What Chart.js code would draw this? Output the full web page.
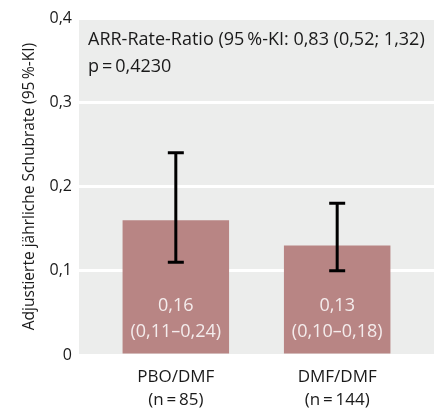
<!DOCTYPE html>
<html>
<head>
<meta charset="utf-8">
<script src="https://cdn.jsdelivr.net/npm/chart.js@4/dist/chart.umd.min.js"></script>
<style>
  html, body { margin: 0; padding: 0; background: #fff; }
  #wrap { width: 438px; height: 409px; }
</style>
</head>
<body>
<div id="wrap"><canvas id="myChart" width="438" height="409"></canvas></div>
<script>
const groups = ["PBO/DMF", "DMF/DMF"];
const groupN = ["(n\u2009=\u200985)", "(n\u2009=\u2009144)"];
const rates = [0.16, 0.13];
const lower = [0.11, 0.10];
const upper = [0.24, 0.18];
const yTicks = [0, 0.1, 0.2, 0.3, 0.4];
const noteLines = ["ARR-Rate-Ratio (95\u2009%-KI: 0,83 (0,52; 1,32)", "p\u2009=\u20090,4230"];

const fontName = "'Open Sans', sans-serif";
const canvas = document.getElementById("myChart");

function komma(v, d) {
  return v === 0 ? "0" : v.toFixed(d).replace(".", ",");
}

const bgPlugin = {
  id: "bg",
  beforeDraw(chart) {
    const { ctx, chartArea: a } = chart;
    ctx.save();
    ctx.fillStyle = "#ecedec";
    ctx.fillRect(a.left, a.top, a.right - a.left, a.bottom - a.top);
    ctx.restore();
  }
};

const extrasPlugin = {
  id: "extras",
  afterDatasetsDraw(chart) {
    const { ctx, scales } = chart;
    const x = scales.x, y = scales.y;
    ctx.save();
    // error bars
    ctx.strokeStyle = "#000";
    ctx.lineWidth = 3;
    rates.forEach((r, i) => {
      const px = x.getPixelForValue(i + 1);
      const top = y.getPixelForValue(upper[i]);
      const bot = y.getPixelForValue(lower[i]);
      ctx.beginPath();
      ctx.moveTo(px, top); ctx.lineTo(px, bot);
      ctx.moveTo(px - 8, top); ctx.lineTo(px + 8, top);
      ctx.moveTo(px - 8, bot); ctx.lineTo(px + 8, bot);
      ctx.stroke();
    });
    // labels in bars
    ctx.fillStyle = "#f4ecec";
    ctx.textAlign = "center";
    ctx.textBaseline = "middle";
    ctx.font = "18px " + fontName;
    rates.forEach((r, i) => {
      const px = x.getPixelForValue(i + 1);
      ctx.fillText(komma(r, 2), px, 306);
      ctx.fillText("(" + komma(lower[i], 2) + "\u2013" + komma(upper[i], 2) + ")", px, 332);
    });
    // note
    ctx.fillStyle = "#1a1a1a";
    ctx.textAlign = "left";
    ctx.font = "18px " + fontName;
    noteLines.forEach((t, i) => ctx.fillText(t, 88, 40 + i * 27));
    ctx.restore();
  }
};

new Chart(canvas, {
  type: "bar",
  data: {
    datasets: [{
      data: rates.map((r, i) => ({ x: i + 1, y: r })),
      backgroundColor: "#b88584",
      borderWidth: 0,
      barPercentage: 0.66,
      categoryPercentage: 1
    }]
  },
  options: {
    responsive: false,
    animation: false,
    layout: { padding: { top: 18, right: 4, left: 20, bottom: 0 } },
    plugins: { legend: { display: false }, tooltip: { enabled: false } },
    scales: {
      x: {
        type: "linear",
        offset: false,
        min: 0.4,
        max: 2.6,
        afterBuildTicks: s => { s.ticks = groups.map((g, i) => ({ value: i + 1 })); },
        afterFit: s => { s.height = 54; },
        grid: { display: false, offset: false },
        border: { display: false },
        ticks: {
          callback: (v) => [groups[v - 1], groupN[v - 1]],
          color: "#1a1a1a",
          font: { family: fontName, size: 17, lineHeight: 1.35 },
          padding: 3,
          maxRotation: 0
        }
      },
      y: {
        min: 0,
        max: 0.4,
        afterBuildTicks: s => { s.ticks = yTicks.map(v => ({ value: v })); },
        afterFit: s => { s.width = 59; },
        grid: { color: "#fff", lineWidth: 3, drawTicks: false },
        border: { display: false },
        ticks: {
          callback: v => komma(v, 1),
          color: "#1a1a1a",
          font: { family: fontName, size: 16 },
          padding: 7
        },
        title: {
          display: true,
          text: "Adjustierte jährliche Schubrate (95\u2009%-KI)",
          color: "#1a1a1a",
          font: { family: fontName, size: 15.5 },
          padding: { top: 0, bottom: 0 }
        }
      }
    }
  },
  plugins: [bgPlugin, extrasPlugin]
});
</script>
</body>
</html>
